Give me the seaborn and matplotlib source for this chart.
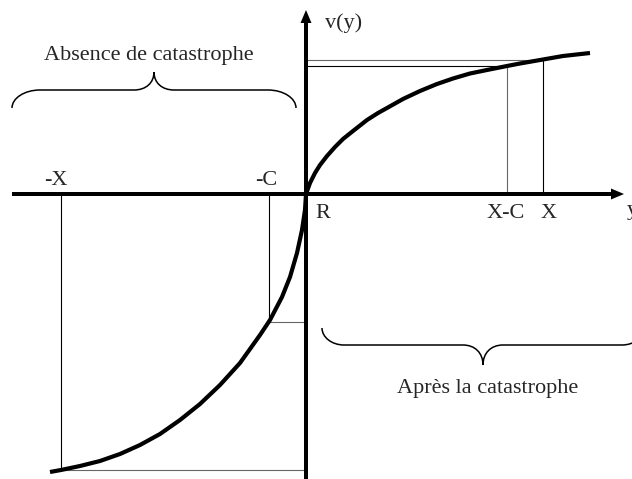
import pandas as pd
import seaborn as sns
import matplotlib.pyplot as plt
from matplotlib.path import Path
from matplotlib.patches import PathPatch

# courbe de valeur v(y) (origine = point de reference R)
gain_y = [0, 4, 9, 14, 21, 29, 37, 47, 61, 72, 81, 97, 114, 131, 147, 164, 181, 201, 214, 237, 257, 284]
gain_v = [0, 11, 21, 29, 38, 47, 55, 63, 74, 81, 86, 95, 103, 110, 115.5, 120.5, 124, 128, 130.5, 134.5, 138, 141]
loss_y = [-256, -245, -226, -206, -186, -166, -146, -126, -106, -86, -66, -46, -36, -24, -16, -9, -4, -1, 0]
loss_v = [-278, -276, -272, -267, -260, -251, -240, -226, -210, -191, -169, -141, -126, -103, -83, -59, -36, -16, 0]

# points reperes sur l'axe des y
ref_labels = ["X", "X-C", "-C", "-X"]
ref_y = [237, 201, -37, -245]
ref_v = [134.5, 128, -128, -276]

df = pd.DataFrame({"y": loss_y + gain_y[1:], "v": loss_v + gain_v[1:]})

sns.set_style("white")
plt.rcParams["font.family"] = ["Liberation Serif", "DejaVu Serif"]

fig = plt.figure(figsize=(6.32, 4.79), dpi=100)
ax = fig.add_axes([0, 0, 1, 1])
ax.set_xlim(-306, 326)
ax.set_ylim(-285, 194)

# traits de rappel
vcol = ["black", "#666666", "black", "black"]
hcol = ["#666666", "black", "#666666", "#666666"]
for yy, vv, cv, ch in zip(ref_y, ref_v, vcol, hcol):
    ax.plot([yy, yy], [0, vv], color=cv, lw=0.8, zorder=1)
    ax.plot([0, yy], [vv, vv], color=ch, lw=0.8, zorder=1)

# axes
ax.arrow(-294, 0, 612, 0, width=4, head_width=11, head_length=13,
         length_includes_head=True, color="black", lw=0, zorder=3)
ax.arrow(0, -290, 0, 474, width=4, head_width=11, head_length=13,
         length_includes_head=True, color="black", lw=0, zorder=3)

sns.lineplot(data=df, x="y", y="v", sort=False, estimator=None,
             color="black", lw=3, ax=ax, zorder=4,
             solid_joinstyle="round", solid_capstyle="butt")
ax.axis("off")


def accolade(x0, x1, y, flat, tip, r=25, r2=20):
    xm = (x0 + x1) / 2
    verts = [(x0, y), (x0, y + 0.55 * (flat - y)), (x0 + 0.45 * r, flat), (x0 + r, flat),
             (xm - r2, flat),
             (xm - 0.4 * r2, flat), (xm, flat + 0.4 * (tip - flat)), (xm, tip),
             (xm, flat + 0.4 * (tip - flat)), (xm + 0.4 * r2, flat), (xm + r2, flat),
             (x1 - r, flat),
             (x1 - 0.45 * r, flat), (x1, y + 0.55 * (flat - y)), (x1, y)]
    codes = [Path.MOVETO] + [Path.CURVE4] * 3 + [Path.LINETO] + [Path.CURVE4] * 6 \
        + [Path.LINETO] + [Path.CURVE4] * 3
    ax.add_patch(PathPatch(Path(verts, codes), fill=False, lw=1.1, color="black"))


accolade(-294, -10, 86, 104, 122, r=28)
accolade(16, 338, -134, -151, -171, r=22)

fs = 16
ax.text(-157, 134, "Absence de catastrophe", ha="center", va="baseline", fontsize=fs)
ax.text(182, -199, "Après la catastrophe", ha="center", va="baseline", fontsize=fs)
ax.text(-250, 9, "-X", ha="center", va="baseline", fontsize=fs)
ax.text(-40, 9, "-C", ha="center", va="baseline", fontsize=fs)
ax.text(9, -24, "R", ha="left", va="baseline", fontsize=fs)
ax.text(199.5, -24, "X-C", ha="center", va="baseline", fontsize=fs)
ax.text(243, -24, "X", ha="center", va="baseline", fontsize=fs)
ax.text(321, -21, "y", ha="left", va="baseline", fontsize=fs)
ax.text(19, 166, "v(y)", ha="left", va="baseline", fontsize=fs)

fig.savefig("out.png", dpi=100)
